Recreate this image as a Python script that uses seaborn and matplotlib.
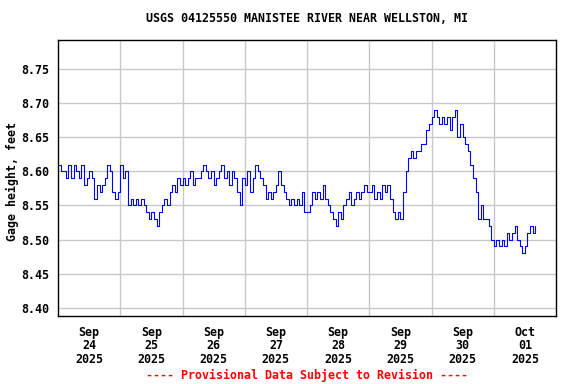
import numpy as np
import pandas as pd
import matplotlib
matplotlib.use("Agg")
import matplotlib.pyplot as plt
import seaborn as sns

# hourly gage height (ft), starting Sep 24 2025 00:00
sep24 = [8.61, 8.60, 8.60, 8.59, 8.61, 8.59, 8.61, 8.60, 8.59, 8.61, 8.58, 8.59,
         8.60, 8.59, 8.56, 8.58, 8.57, 8.58, 8.59, 8.61, 8.60, 8.57, 8.56, 8.57]
sep25 = [8.61, 8.59, 8.60, 8.55, 8.56, 8.55, 8.56, 8.55, 8.56, 8.55, 8.54, 8.53,
         8.54, 8.53, 8.52, 8.54, 8.55, 8.56, 8.55, 8.57, 8.58, 8.57, 8.59, 8.58]
sep26 = [8.59, 8.58, 8.59, 8.60, 8.58, 8.59, 8.59, 8.60, 8.61, 8.60, 8.59, 8.60,
         8.58, 8.59, 8.60, 8.61, 8.59, 8.60, 8.58, 8.60, 8.59, 8.57, 8.55, 8.59]
sep27 = [8.58, 8.60, 8.57, 8.59, 8.61, 8.60, 8.59, 8.58, 8.56, 8.57, 8.56, 8.57,
         8.58, 8.60, 8.58, 8.57, 8.56, 8.55, 8.56, 8.55, 8.56, 8.55, 8.57, 8.54]
sep28 = [8.54, 8.55, 8.57, 8.56, 8.57, 8.56, 8.58, 8.56, 8.55, 8.54, 8.53, 8.52,
         8.54, 8.53, 8.55, 8.56, 8.57, 8.55, 8.56, 8.57, 8.56, 8.57, 8.58, 8.57]
sep29 = [8.57, 8.58, 8.56, 8.57, 8.56, 8.58, 8.57, 8.58, 8.56, 8.54, 8.53, 8.54,
         8.53, 8.57, 8.60, 8.62, 8.63, 8.62, 8.63, 8.63, 8.64, 8.64, 8.66, 8.67]
sep30 = [8.68, 8.69, 8.68, 8.67, 8.68, 8.67, 8.68, 8.66, 8.68, 8.69, 8.65, 8.67,
         8.65, 8.64, 8.63, 8.61, 8.59, 8.57, 8.53, 8.55, 8.53, 8.53, 8.52, 8.50]
oct01 = [8.49, 8.50, 8.49, 8.50, 8.49, 8.51, 8.50, 8.51, 8.52, 8.50, 8.49, 8.48,
         8.49, 8.51, 8.52, 8.51, 8.52]

day_labels = ["Sep\n24\n2025", "Sep\n25\n2025", "Sep\n26\n2025", "Sep\n27\n2025",
              "Sep\n28\n2025", "Sep\n29\n2025", "Sep\n30\n2025", "Oct\n01\n2025"]
y_ticks = [8.40, 8.45, 8.50, 8.55, 8.60, 8.65, 8.70, 8.75]

TITLE = "USGS 04125550 MANISTEE RIVER NEAR WELLSTON, MI"
FOOTER = "---- Provisional Data Subject to Revision ----"

gage = sep24 + sep25 + sep26 + sep27 + sep28 + sep29 + sep30 + oct01
df = pd.DataFrame({
    "time": pd.date_range("2025-09-24 00:00", periods=len(gage), freq="h"),
    "gage": gage,
})

sns.set_style("white")
plt.rcParams["font.family"] = ["DejaVu Sans Mono", "DejaVu Sans"]
plt.rcParams["font.weight"] = "bold"
plt.rcParams["text.color"] = "black"
plt.rcParams["xtick.color"] = "black"
plt.rcParams["ytick.color"] = "black"
plt.rcParams["axes.labelcolor"] = "black"
FS = 8.4

fig = plt.figure(figsize=(5.76, 3.84), dpi=100)
ax = fig.add_axes([58 / 576, 1 - 316 / 384, 498 / 576, 276 / 384])

sns.lineplot(data=df, x="time", y="gage", ax=ax, color="#0000ff",
             linewidth=0.8, drawstyle="steps-post", estimator=None)

start = pd.Timestamp("2025-09-24")
ax.set_xlim(start, start + pd.Timedelta(days=8))
ax.set_ylim(8.388, 8.7925)

midnights = [start + pd.Timedelta(days=i) for i in range(1, 8)]
noons = [start + pd.Timedelta(days=i, hours=12) for i in range(8)]
ax.set_xticks(noons)
ax.set_xticklabels(day_labels, fontsize=FS, fontweight="bold", color="black")
ax.set_xticks(midnights, minor=True)
ax.set_yticks(y_ticks)
ax.set_yticklabels([f"{v:.2f}" for v in y_ticks], fontsize=FS,
                   fontweight="bold", color="black")
for lab in ax.get_xticklabels():
    lab.set_linespacing(1.05)

ax.tick_params(axis="both", which="both", length=0)
ax.tick_params(axis="x", pad=7)
ax.tick_params(axis="y", pad=6)

ax.grid(False)
ax.grid(which="minor", axis="x", color="#c8c8c8", linewidth=1)
ax.grid(which="major", axis="y", color="#c8c8c8", linewidth=1)
ax.set_axisbelow(True)
for s in ax.spines.values():
    s.set_color("black")
    s.set_linewidth(1)
ax.set_xlabel("")
ax.set_ylabel("")

fig.text(12 / 576, 1 - 182 / 384, "Gage height, feet", rotation=90,
         ha="center", va="center", fontsize=FS, fontweight="bold", color="black")
fig.text(307 / 576, 1 - 19 / 384, TITLE, ha="center", va="center",
         fontsize=FS, fontweight="bold", color="black")
fig.text(307 / 576, 1 - 375 / 384, FOOTER, ha="center", va="center",
         fontsize=FS, fontweight="bold", color="#ff0000")

fig.savefig("out.png", dpi=100)
plt.close(fig)
